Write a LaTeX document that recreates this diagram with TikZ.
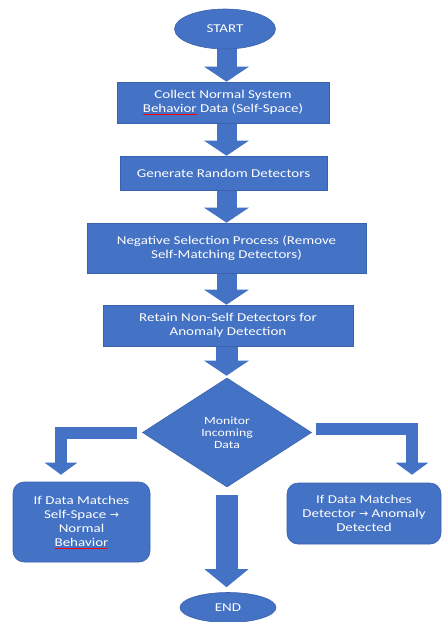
\documentclass[tikz,border=0pt]{standalone}
\usepackage{fontspec}
\setmainfont{Carlito}[FakeStretch=1.25]
\newfontfamily\djv{DejaVu Sans}
\usetikzlibrary{shapes.geometric,arrows.meta,backgrounds}
\definecolor{wblue}{HTML}{4472C4}
\definecolor{wedge}{HTML}{3A62AC}
\newcommand\redul[1]{\setbox0\hbox{#1}\rlap{\color{red}\rule[-2.2pt]{\wd0}{0.7pt}}#1}
\tikzset{
  txt/.style={text=white, font=\fontsize{12}{14}\selectfont, align=center, inner sep=0pt},
  procbox/.style={txt, rectangle, draw=wedge, line width=0.6pt, fill=wblue},
  roundbox/.style={procbox, rounded corners=11pt},
  termbox/.style={txt, ellipse, draw=wedge, line width=0.6pt, fill=wblue},
  decision/.style={txt, diamond, draw=wedge, line width=0.6pt, fill=wblue, font=\fontsize{11}{12}\selectfont},
  blockarrow/.style={draw=wblue, line width=20pt, -{Triangle[width=44pt,length=15pt]}},
  bigarrow/.style={draw=wblue, line width=22pt, -{Triangle[width=43pt,length=18pt]}},
  elbowarrow/.style={draw=wblue, line width=12pt, line join=miter, -{Triangle[width=32pt,length=12pt]}},
}
\begin{document}
\begin{tikzpicture}[x=1pt,y=-1pt]
\useasboundingbox (0,0) rectangle (442,622);

\node[termbox, minimum width=101pt, minimum height=40pt] (start) at (225,29) {START};
\node[procbox, minimum width=212pt, minimum height=41pt] (b1) at (223,102.5)
  {Collect Normal System\\ \redul{Behavior} Data (Self-Space)};
\node[procbox, minimum width=207pt, minimum height=34pt] (b2) at (223.5,173)
  {Generate Random Detectors};
\node[procbox, minimum width=279pt, minimum height=50pt] (b3) at (226.5,248)
  {Negative Selection Process (Remove\\ Self-Matching Detectors)};
\node[procbox, minimum width=250pt, minimum height=41pt] (b4) at (228,325.5)
  {Retain Non-Self Detectors for\\ Anomaly Detection};
\node[decision, minimum width=169pt, minimum height=109pt, aspect=1.55] (dec) at (227,432.5)
  {Monitor\\ Incoming\\ Data};
\node[roundbox, minimum width=137pt, minimum height=80pt] (lbox) at (81.5,522)
  {If Data Matches\\ Self-Space {\djv\fontsize{11}{14}\selectfont →}\\ Normal\\ \redul{Behavior}};
\node[roundbox, minimum width=154pt, minimum height=61pt] (rbox) at (364,513.5)
  {If Data Matches\\ Detector {\djv\fontsize{11}{14}\selectfont →} Anomaly\\ Detected};
\node[termbox, minimum width=96pt, minimum height=30pt] (end) at (228,607.5) {END};

\coordinate (ax) at (226.5,0);
\coordinate (lx) at (61,0);
\coordinate (rx) at (412,0);

\begin{scope}[on background layer]
\fill[white] (0,0) rectangle (442,622);
\draw[blockarrow] (start.center -| ax) -- (b1.north -| ax);
\draw[blockarrow] (b1.center -| ax) -- (b2.north -| ax);
\draw[blockarrow] (b2.center -| ax) -- (b3.north -| ax);
\draw[blockarrow] (b3.center -| ax) -- (b4.north -| ax);
\draw[blockarrow, line width=22pt] (b4.center -| ax) -- ([yshift=2pt]dec.north -| ax);
\draw[bigarrow, shorten <=8pt, shorten >=5pt] (dec.south -| ax) -- (end.north -| ax);
\draw[elbowarrow, shorten <=5pt, shorten >=7pt] (dec.west) -| (lbox.north -| lx);
\draw[elbowarrow, shorten <=4pt, shorten >=8pt] ([yshift=4pt]dec.east) -| (rbox.north -| rx);
\end{scope}
\end{tikzpicture}
\end{document}
